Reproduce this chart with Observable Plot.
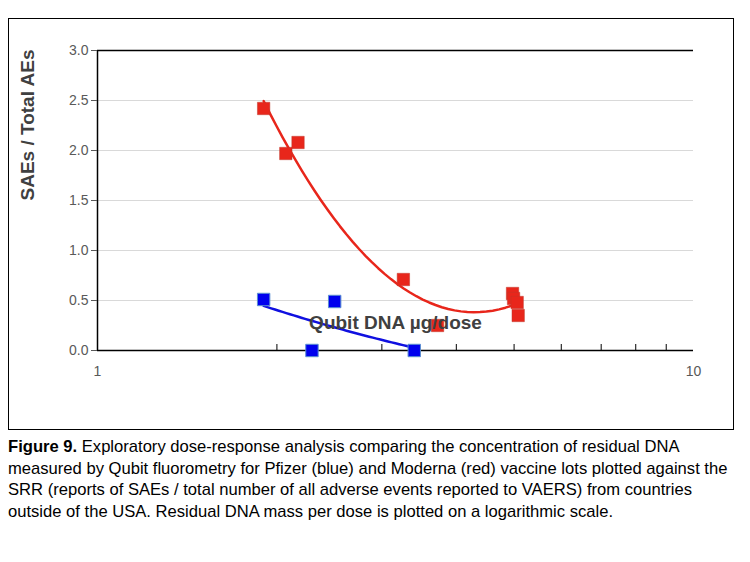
<!DOCTYPE html><html><head><meta charset="utf-8">
<script src="https://cdn.jsdelivr.net/npm/d3@7"></script>
<script src="https://cdn.jsdelivr.net/npm/@observablehq/plot@0.6"></script>
<style>body{margin:0;background:#fff;font-family:"Liberation Sans",Arial,sans-serif}
#box{position:absolute;left:8px;top:18px;width:724px;height:410px;border:1px solid #000}
#cap{position:absolute;left:8px;top:436px;width:730px;font-size:16.6px;line-height:21.5px;color:#000}</style></head><body>
<div id="box"></div>
<div id="cap"><b>Figure 9.</b> Exploratory dose-response analysis comparing the concentration of residual DNA measured by Qubit fluorometry for Pfizer (blue) and Moderna (red) vaccine lots plotted against the SRR (reports of SAEs / total number of all adverse events reported to VAERS) from countries outside of the USA. Residual DNA mass per dose is plotted on a logarithmic scale.</div>
<script>
const modernaX=[1.90,2.07,2.17,3.26,3.72,4.97,4.99,5.06,5.08];
const modernaY=[2.42,1.97,2.08,0.71,0.25,0.57,0.52,0.48,0.35];
const pfizerX=[1.90,2.29,2.50,3.40];
const pfizerY=[0.51,0.0,0.49,0.0];
const yTicks=[0,0.5,1,1.5,2,2.5,3];
const xMinor=[2,3,4,5,6,7,8,9];
function fit(xs,ys){
  const S=Array(5).fill(0),T=Array(3).fill(0);
  xs.forEach((x,i)=>{const u=Math.log(x);for(let k=0;k<5;k++)S[k]+=u**k;for(let k=0;k<3;k++)T[k]+=ys[i]*u**k;});
  const A=[[S[0],S[1],S[2],T[0]],[S[1],S[2],S[3],T[1]],[S[2],S[3],S[4],T[2]]];
  for(let i=0;i<3;i++){for(let j=i+1;j<3;j++){const f=A[j][i]/A[i][i];for(let k=i;k<4;k++)A[j][k]-=f*A[i][k];}}
  const c=[0,0,0];for(let i=2;i>=0;i--){let s=A[i][3];for(let k=i+1;k<3;k++)s-=A[i][k]*c[k];c[i]=s/A[i][i];}
  const lo=d3.min(xs),hi=d3.max(xs);
  return d3.range(41).map(i=>{const x=lo*Math.pow(hi/lo,i/40),u=Math.log(x);return {x,y:c[0]+c[1]*u+c[2]*u*u};});
}
const red=modernaX.map((x,i)=>({x,y:modernaY[i]}));
const blue=pfizerX.map((x,i)=>({x,y:pfizerY[i]}));
const p=Plot.plot({width:724,height:410,marginLeft:88,marginRight:40,marginTop:31,marginBottom:79,
 style:{fontFamily:"Liberation Sans, Arial, sans-serif",fontSize:"14px",color:"#595959",background:"transparent"},
 x:{type:"log",domain:[1,10],label:null},
 y:{type:"linear",domain:[0,3],label:null},
 marks:[
  Plot.ruleY(yTicks.slice(1,-1),{stroke:"#d9d9d9"}),
  Plot.ruleX(xMinor,{x:d=>d,y1:0,y2:0.06,stroke:"#000"}),
  Plot.ruleY([0,3],{stroke:"#000",strokeWidth:1.5}),
  Plot.ruleX([1],{stroke:"#000",strokeWidth:1.5}),
  Plot.line(fit(modernaX,modernaY),{x:"x",y:"y",stroke:"#e8261b",strokeWidth:2.5}),
  Plot.line(fit(pfizerX,pfizerY),{x:"x",y:"y",stroke:"#1010e0",strokeWidth:2.5}),
  Plot.dot(red,{x:"x",y:"y",symbol:"square",r:7,fill:"#e8261b",stroke:"#c0392b",strokeWidth:0.5}),
  Plot.dot(blue,{x:"x",y:"y",symbol:"square",r:7,fill:"#0000ee",stroke:"#5b8fd0",strokeWidth:1}),
  Plot.axisX({ticks:[1,10],tickFormat:d=>d,tickSize:0,tickPadding:16}),
  Plot.axisY({ticks:yTicks,tickFormat:d3.format(".1f"),tickSize:6}),
  Plot.text(["Qubit DNA µg/dose"],{frameAnchor:"bottom",dy:-22,fontSize:19,fontWeight:"bold",fill:"#404040"}),
  Plot.text(["SAEs / Total AEs"],{frameAnchor:"left",dx:-70,rotate:-90,fontSize:19,fontWeight:"bold",fill:"#404040"})
 ]});
p.style.position="absolute";p.style.left="9px";p.style.top="19px";
document.body.appendChild(p);
</script></body></html>
